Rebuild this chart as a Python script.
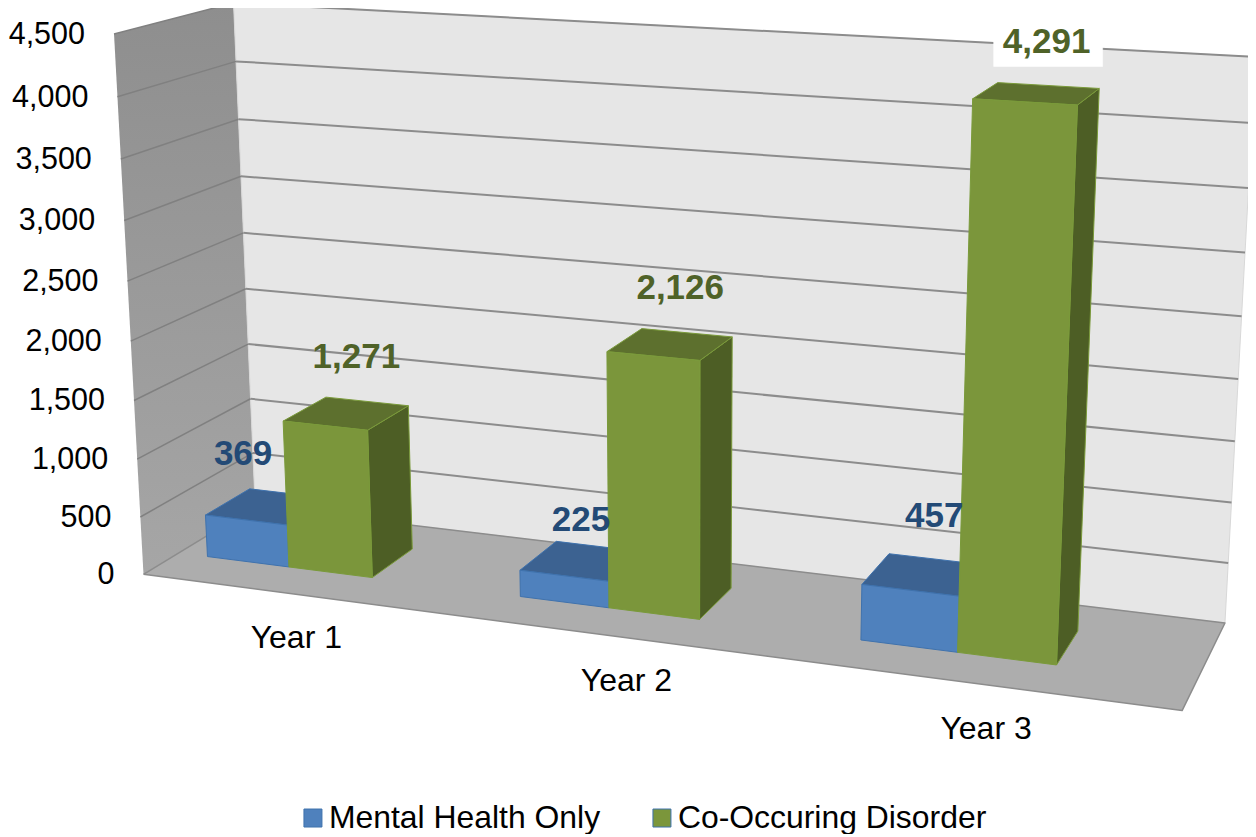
import numpy as np, pandas as pd, altair as alt

categories = ["Year 1", "Year 2", "Year 3"]
series = ["Mental Health Only", "Co-Occuring Disorder"]
mental = [369, 225, 457]
cooccur = [1271, 2126, 4291]
ticks = list(range(0, 5000, 500))

FONT = "Liberation Sans"
BLUE = dict(front="#4f81bd", top="#3c6291", side="#2f4f75", edge="#3f72ad", label="#234a76")
GREEN = dict(front="#7b963b", top="#5d702e", side="#4d5e25", edge="#7a9a3a", label="#4f6228")

# camera calibration of the 3-D box: (X, value, Z) -> screen px
front = [575,517,457,400,342,282,221,159,97,33]
back = [505,453,400,345,289,233,176,119,61,3]
cal = []
for i,v in enumerate(ticks):
    cal.append((0,v,0,143-(28*v/4500),front[i]))
    cal.append((0,v,1,256-(23*v/4500),back[i]))
cal += [(1,0,1,1225,623),(1,500,1,1228,563),(1,1000,1,1232,502),(1,3500,1,1248,188),(1,4000,1,1252,123),(1,4500,1,1256,57),(1,0,0,1182,711)]
A=[]
for X,V,Z,u,v in cal:
    V=V/4500;u=u/1000;v=v/1000
    A.append([X,V,Z,1,0,0,0,0,-u*X,-u*V,-u*Z,-u])
    A.append([0,0,0,0,X,V,Z,1,-v*X,-v*V,-v*Z,-v])
P=np.linalg.svd(np.array(A))[2][-1].reshape(3,4)
def proj(X,V,Z):
    p=P@np.array([X,V/4500,Z,1.0])
    return (1000*p[0]/p[2],1000*p[1]/p[2])

rows=[]
oid=[0]
def poly(pts,fill,stroke,sw=1,closed=True):
    oid[0]+=1
    pp=list(pts)+([pts[0]] if closed else [])
    for k,(x,y) in enumerate(pp):
        rows.append(dict(px=x,py=y,pid=oid[0],k=k,fill=fill,stroke=stroke,sw=sw))

def bar(x0,x1,v,c,z0=0.30,z1=0.70):
    poly([proj(x1,0,z0),proj(x1,v,z0),proj(x1,v,z1),proj(x1,0,z1)],c["side"],c["edge"])
    poly([proj(x0,v,z0),proj(x0,v,z1),proj(x1,v,z1),proj(x1,v,z0)],c["top"],c["edge"])
    poly([proj(x0,0,z0),proj(x0,v,z0),proj(x1,v,z0),proj(x1,0,z0)],c["front"],c["edge"])

wall=[proj(0,0,0),proj(0,4500,0),proj(0,4500,1),proj(0,0,1),proj(0,0,0)]
wall_df=pd.DataFrame([dict(px=a,py=b,k=k) for k,(a,b) in enumerate(wall)])
poly([proj(0,0,1),proj(0,4500,1),proj(1,4500,1),proj(1,0,1)],"#e6e6e6","#d8d8d8")
poly([proj(0,0,0),proj(0,0,1),proj(1,0,1),proj(1,0,0)],"#adadad","#8c8c8c",1.5)
for t in ticks[1:]:
    poly([proj(0,t,0),proj(0,t,1)],"transparent","#808080",1.5,False)
    poly([proj(0,t,1),proj(1,t,1)],"transparent","#8c8c8c",2,False)

W=0.0895
labels=[]
off_blue=[(-25,-53),(-1,-41),(11,-58)]
off_green=[(10,-56),(10,-56),(10,-52)]
# white plate behind the last label
gx,gy=proj(2/3+0.032+W+W/2,cooccur[2],0.5)
lx,ly=gx+off_green[2][0],gy+off_green[2][1]
poly([(lx-53,ly-13),(lx+56,ly-13),(lx+56,ly+25),(lx-53,ly+25)],"#ffffff","#ffffff",0.5)

for i in range(3):
    xb=i/3+0.032
    bar(xb,xb+W,mental[i],BLUE)
    bar(xb+W,xb+2*W,cooccur[i],GREEN)
    for xc,v,off,c in [(xb+W/2,mental[i],off_blue[i],BLUE),(xb+1.5*W,cooccur[i],off_green[i],GREEN)]:
        a,b=proj(xc,v,0.5)
        labels.append(dict(px=a+off[0],py=b+off[1],t=f"{v:,}",c=c["label"]))

cat_off=[(-2,43),(-2,43),(-3,44)]
cats=[]
for i,name in enumerate(categories):
    a,b=proj((i+0.5)/3,0,0)
    cats.append(dict(px=a+cat_off[i][0],py=b+cat_off[i][1],t=name))
tk=[]
for v in ticks:
    a,b=proj(0,v,0)
    tk.append(dict(px=a-29,py=b+1,t=f"{v:,}"))

df=pd.DataFrame(rows)
x=alt.X("px:Q",scale=alt.Scale(domain=[8,1248],range=[0,1240],nice=False,zero=False),axis=None)
y=alt.Y("py:Q",scale=alt.Scale(domain=[8,834],range=[0,826],nice=False,zero=False),axis=None)
wallm=alt.Chart(wall_df).mark_line(interpolate="linear",strokeWidth=0,
    fill=alt.Gradient(gradient="linear",x1=0,y1=0,x2=0,y2=1,stops=[alt.GradientStop(offset=0,color="#8e8e8e"),alt.GradientStop(offset=1,color="#a6a6a6")])).encode(x=x,y=y,order="k:Q")
faces=alt.Chart(df).mark_line(interpolate="linear",strokeJoin="round").encode(x=x,y=y,detail="pid:N",order="k:Q",fill=alt.Fill("fill:N",scale=None),stroke=alt.Stroke("stroke:N",scale=None),strokeWidth=alt.StrokeWidth("sw:Q",scale=None))
lab=alt.Chart(pd.DataFrame(labels)).mark_text(font=FONT,fontSize=35,fontWeight="bold",baseline="middle",align="center").encode(x=x,y=y,text="t:N",color=alt.Color("c:N",scale=None))
catm=alt.Chart(pd.DataFrame(cats)).mark_text(font=FONT,fontSize=32,baseline="middle",align="center",color="#000000").encode(x=x,y=y,text="t:N")
tkm=alt.Chart(pd.DataFrame(tk)).mark_text(font=FONT,fontSize=30.5,baseline="middle",align="right",color="#000000").encode(x=x,y=y,text="t:N")
leg=alt.Chart(pd.DataFrame(dict(series=series,px=[600,900],py=[800,800]))).mark_square(size=0,opacity=1).encode(
    x=x,y=y,color=alt.Color("series:N",sort=series,scale=alt.Scale(domain=series,range=[BLUE["front"],GREEN["front"]]),
    legend=alt.Legend(orient="none",legendX=289,legendY=794,direction="horizontal",columns=2,title=None,symbolType="square",symbolSize=324,
        labelFont=FONT,labelFontSize=31.9,labelColor="#000000",columnPadding=45,labelOffset=0,labelLimit=400,symbolStrokeColor="#3f72ad",symbolStrokeWidth=1)))
chart=alt.layer(wallm,faces,tkm,catm,lab,leg).properties(width=1240,height=826,padding=0,autosize=alt.AutoSizeParams(type="none")).configure_view(stroke=None)
chart.save("out.html",embed_options={"renderer":"svg","actions":False})
